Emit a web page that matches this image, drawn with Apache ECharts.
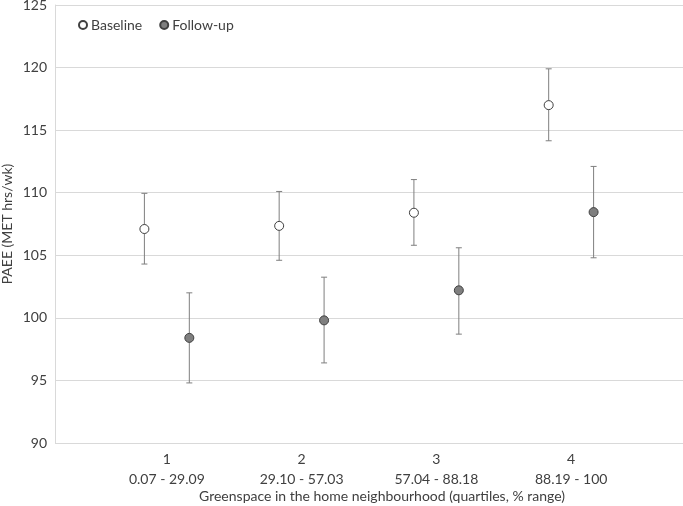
<!DOCTYPE html>
<html>
<head>
<meta charset="utf-8">
<script src="https://cdn.jsdelivr.net/npm/echarts@6/dist/echarts.min.js"></script>
<style>html,body{margin:0;padding:0;background:#fff}#c{width:683px;height:506px}</style>
</head>
<body>
<div id="c"></div>
<script>
const quartiles = ['1', '2', '3', '4'];
const ranges = ['0.07 - 29.09', '29.10 - 57.03', '57.04 - 88.18', '88.19 - 100'];
const baselineMean = [107.1, 107.35, 108.4, 117.0];
const baselineLow = [104.3, 104.6, 105.8, 114.15];
const baselineHigh = [109.95, 110.1, 111.05, 119.9];
const followMean = [98.4, 99.8, 102.2, 108.45];
const followLow = [94.8, 96.4, 98.7, 104.8];
const followHigh = [102.0, 103.25, 105.6, 112.1];
const yTicks = [90, 95, 100, 105, 110, 115, 120, 125];

const FONT = 'Lato';
const TXT = '#404040';
const OFF = 1 / 6;

const xPos = (i, s) => (i + 1) + s * OFF;
const pts = (m, s) => m.map((v, i) => [xPos(i, s), v]);
const bars = (lo, hi, s) => lo.map((v, i) => [xPos(i, s), v, hi[i]]);

function errRender(params, api) {
  const x = api.value(0);
  const a = api.coord([x, api.value(2)]);
  const b = api.coord([x, api.value(1)]);
  const w = 3;
  const st = { stroke: '#7f7f7f', lineWidth: 1 };
  return {
    type: 'group',
    children: [
      { type: 'line', shape: { x1: a[0], y1: a[1], x2: b[0], y2: b[1] }, style: st },
      { type: 'line', shape: { x1: a[0] - w, y1: a[1], x2: a[0] + w, y2: a[1] }, style: st },
      { type: 'line', shape: { x1: b[0] - w, y1: b[1], x2: b[0] + w, y2: b[1] }, style: st }
    ]
  };
}

const chart = echarts.init(document.getElementById('c'), null, { renderer: 'canvas' });
chart.setOption({
  animation: false,
  backgroundColor: '#fff',
  textStyle: { fontFamily: FONT, color: TXT },
  grid: { left: 55, right: 0, top: 5, bottom: 63, containLabel: false, outerBoundsMode: 'none' },
  legend: {
    data: ['Baseline', 'Follow-up'],
    left: 73, top: 13,
    itemWidth: 8, itemHeight: 8, itemGap: 17,
    textStyle: { fontFamily: FONT, fontSize: 14, color: TXT, padding: [0, 0, 0, -1] }
  },
  xAxis: {
    type: 'value', min: 0.17, max: 4.83,
    axisLine: { show: false }, axisTick: { show: false }, splitLine: { show: false },
    axisLabel: {
      customValues: [1, 2, 3, 4],
      margin: 6,
      formatter: v => '{n|' + quartiles[v - 1] + '}\n{r|' + ranges[v - 1] + '}',
      rich: {
        n: { fontFamily: FONT, fontSize: 14, color: TXT, lineHeight: 20 },
        r: { fontFamily: FONT, fontSize: 14, color: TXT, lineHeight: 20 }
      }
    },
    name: 'Greenspace in the home neighbourhood (quartiles, % range)',
    nameLocation: 'middle', nameGap: 46, nameMoveOverlap: false,
    nameTextStyle: { fontFamily: FONT, fontSize: 14, color: TXT, padding: [0, 0, 0, 26] }
  },
  yAxis: {
    type: 'value', min: 90, max: 125, interval: 5,
    axisLine: { show: true, lineStyle: { color: '#d9d9d9', width: 1 } },
    axisTick: { show: false },
    splitLine: { show: true, lineStyle: { color: '#d9d9d9', width: 1 } },
    axisLabel: { margin: 8, fontFamily: FONT, fontSize: 14, color: TXT,
      formatter: v => yTicks.includes(v) ? String(v) : '' },
    name: 'PAEE (MET hrs/wk)', nameLocation: 'middle', nameGap: 41, nameMoveOverlap: false,
    nameTextStyle: { fontFamily: FONT, fontSize: 14, color: TXT }
  },
  series: [
    { name: 'BaselineErr', type: 'custom', renderItem: errRender, encode: { x: 0, y: [1, 2] },
      data: bars(baselineLow, baselineHigh, -1), z: 1, silent: true },
    { name: 'FollowErr', type: 'custom', renderItem: errRender, encode: { x: 0, y: [1, 2] },
      data: bars(followLow, followHigh, 1), z: 1, silent: true },
    { name: 'Baseline', type: 'scatter', symbol: 'circle', symbolSize: 9, z: 3,
      itemStyle: { color: '#ffffff', borderColor: '#404040', borderWidth: 1, opacity: 1 },
      data: pts(baselineMean, -1) },
    { name: 'Follow-up', type: 'scatter', symbol: 'circle', symbolSize: 9, z: 3,
      itemStyle: { color: '#7f7f7f', borderColor: '#404040', borderWidth: 1, opacity: 1 },
      data: pts(followMean, 1) }
  ]
});
</script>
</body>
</html>
